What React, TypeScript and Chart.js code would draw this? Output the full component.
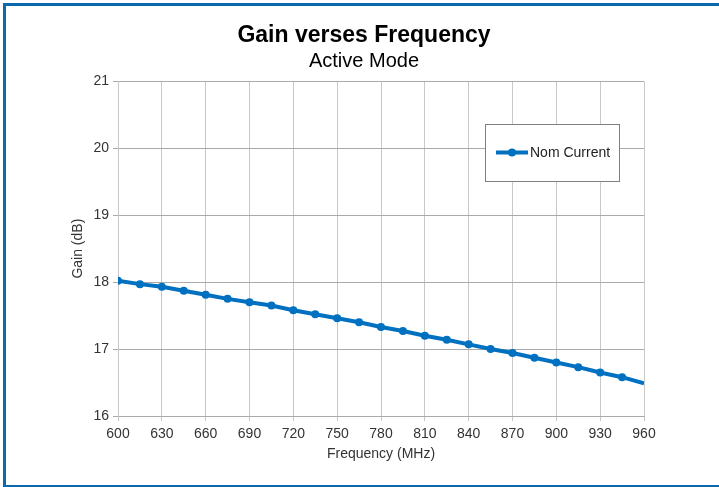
import { useEffect, useRef } from "react";
import { Chart, registerables } from "chart.js";

Chart.register(...registerables);

const frequencies = [600, 615, 630, 645, 660, 675, 690, 705, 720, 735, 750, 765, 780, 795, 810, 825, 840, 855, 870, 885, 900, 915, 930, 945, 960];
const gainNomCurrent = [18.02, 17.97, 17.93, 17.87, 17.81, 17.75, 17.7, 17.65, 17.58, 17.52, 17.46, 17.4, 17.33, 17.27, 17.2, 17.14, 17.07, 17.0, 16.94, 16.87, 16.8, 16.73, 16.65, 16.58, 16.49];
const seriesLabel = "Nom Current";
const chartTitle = "Gain verses Frequency";
const chartSubtitle = "Active Mode";
const xAxisTitle = "Frequency (MHz)";
const yAxisTitle = "Gain (dB)";
const xRange = [600, 960];
const yRange = [16, 21];

const FONT = "'Liberation Sans', Arial, Helvetica, sans-serif";
const LINE_COLOR = "#0070c0";

export default function App() {
  const ref = useRef<HTMLCanvasElement>(null);

  useEffect(() => {
    const canvas = ref.current;
    if (!canvas) return;
    Chart.defaults.font.family = FONT;

    const boxLegend = {
      id: "boxLegend",
      afterDraw(chart: any) {
        const ctx = chart.ctx as CanvasRenderingContext2D;
        const ds = chart.data.datasets[0];
        ctx.save();
        ctx.fillStyle = "#ffffff";
        ctx.fillRect(485.5, 124.5, 134, 57);
        ctx.strokeStyle = "#7f7f7f";
        ctx.lineWidth = 1;
        ctx.strokeRect(485.5, 124.5, 134, 57);
        ctx.strokeStyle = ds.borderColor;
        ctx.lineWidth = 4;
        ctx.beginPath();
        ctx.moveTo(496, 152.5);
        ctx.lineTo(528, 152.5);
        ctx.stroke();
        ctx.fillStyle = ds.borderColor;
        ctx.beginPath();
        ctx.arc(512, 152.5, 4, 0, Math.PI * 2);
        ctx.fill();
        ctx.fillStyle = "#222222";
        ctx.font = `14px ${FONT}`;
        ctx.textBaseline = "middle";
        ctx.textAlign = "left";
        ctx.fillText(ds.label, 530, 153);
        ctx.restore();
      },
    };

    const lastIndex = frequencies.length - 1;

    const chart = new Chart(canvas, {
      type: "line",
      data: {
        datasets: [
          {
            label: seriesLabel,
            data: frequencies.map((f, i) => ({ x: f, y: gainNomCurrent[i] })),
            borderColor: LINE_COLOR,
            backgroundColor: LINE_COLOR,
            borderWidth: 4,
            pointRadius: (c: any) => (c.dataIndex === lastIndex ? 0 : 4),
            pointBackgroundColor: LINE_COLOR,
            pointBorderColor: LINE_COLOR,
            pointBorderWidth: 0,
            tension: 0,
            xAxisID: "x",
            yAxisID: "y",
          },
        ],
      },
      options: {
        animation: false,
        responsive: false,
        devicePixelRatio: 1,
        layout: { padding: { left: 0, right: 0, top: 0, bottom: 0 }, autoPadding: false } as any,
        plugins: {
          legend: { display: false },
          tooltip: { enabled: false },
          title: {
            display: true,
            text: chartTitle,
            color: "#000000",
            font: { size: 23, weight: "bold", lineHeight: 1.1 },
            padding: { top: 23, bottom: 0 },
          },
          subtitle: {
            display: true,
            text: chartSubtitle,
            color: "#000000",
            font: { size: 20, lineHeight: 1.1 },
            padding: { top: 2, bottom: 9 },
          },
        },
        scales: {
          x: {
            type: "linear",
            min: xRange[0],
            max: xRange[1],
            afterFit: (s: any) => {
              s.height = 71;
            },
            ticks: { stepSize: 30, color: "#333333", font: { size: 14 }, padding: 5 },
            grid: { color: "#c8c8c8", tickLength: 5, lineWidth: 1 },
            border: { color: "#aaaaaa" },
            title: {
              display: true,
              text: xAxisTitle,
              color: "#333333",
              font: { size: 14, lineHeight: 1.2 },
              padding: { top: 0, bottom: 24 },
            },
          },
          y: {
            type: "linear",
            position: "left",
            min: yRange[0],
            max: yRange[1],
            afterFit: (s: any) => {
              s.width = 118;
            },
            ticks: { stepSize: 1, color: "#333333", font: { size: 14 }, padding: 4 },
            grid: { color: "#aaaaaa", tickLength: 5, lineWidth: 1 },
            border: { color: "#c8c8c8" },
            title: {
              display: true,
              text: yAxisTitle,
              color: "#333333",
              font: { size: 14, lineHeight: 1.2 },
              padding: { top: 69.6, bottom: 0 },
            },
          },
          yRight: {
            type: "linear",
            position: "right",
            min: yRange[0],
            max: yRange[1],
            afterFit: (s: any) => {
              s.width = 84;
            },
            ticks: { display: false },
            grid: { display: false, drawOnChartArea: false },
            border: { display: false },
          },
        },
      } as any,
      plugins: [boxLegend],
    });

    return () => chart.destroy();
  }, []);

  return (
    <div
      style={{
        position: "fixed",
        left: 0,
        top: 0,
        width: 719,
        height: 487,
        overflow: "hidden",
        background: "#ffffff",
      }}
    >
      <div
        style={{
          position: "absolute",
          left: 3,
          top: 3,
          width: 800,
          height: 484,
          boxSizing: "border-box",
          borderTop: "3px solid #0b6aad",
          borderLeft: "3px solid #0b6aad",
          borderBottom: "2px solid #0b6aad",
        }}
      />
      <canvas
        ref={ref}
        width={728}
        height={487}
        style={{ position: "absolute", left: 0, top: 0, width: 728, height: 487 }}
      />
    </div>
  );
}
